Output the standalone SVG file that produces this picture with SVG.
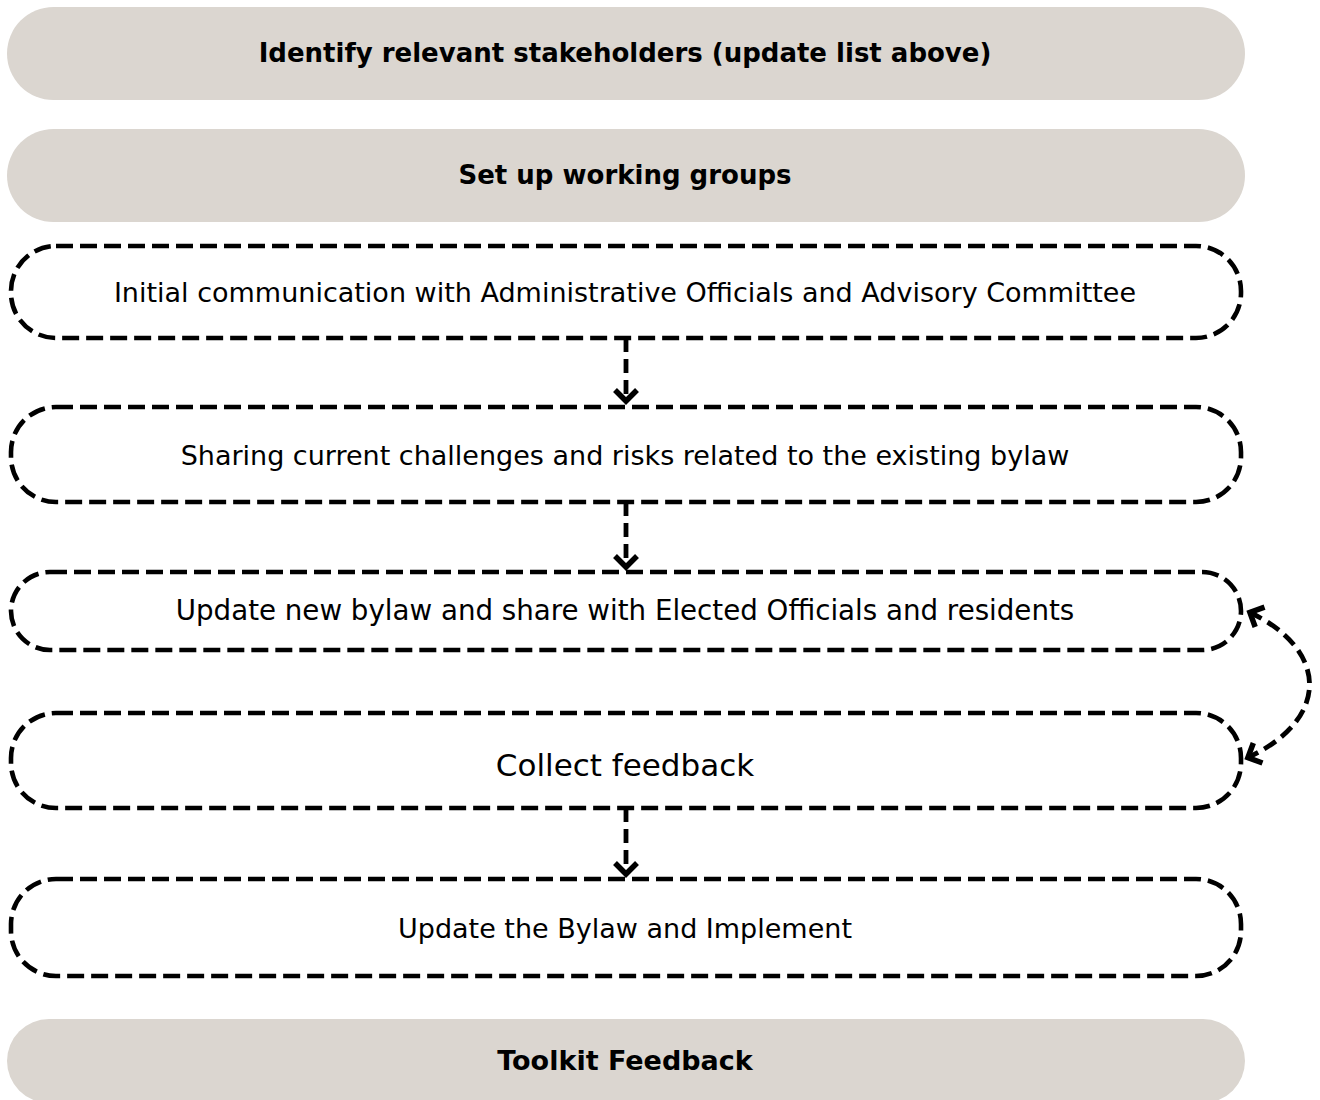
<svg xmlns="http://www.w3.org/2000/svg" width="1320" height="1100" viewBox="0 0 1320 1100">
<style>
.pill{fill:#dbd6d0}
.dash{fill:none;stroke:#000;stroke-width:4.6;stroke-dasharray:17 7}
.b{font-family:"DejaVu Sans",sans-serif;font-weight:700;font-size:26px;fill:#000;text-anchor:middle;dominant-baseline:central}
.r{font-family:"DejaVu Sans",sans-serif;font-weight:400;font-size:27px;fill:#000;text-anchor:middle;dominant-baseline:central}
.c{fill:none;stroke:#000;stroke-width:4.8;stroke-dasharray:14 7}
</style>
<defs>
<marker id="ah" viewBox="0 0 18 28" refX="15" refY="14" markerWidth="18" markerHeight="28" markerUnits="userSpaceOnUse" orient="auto-start-reverse">
<path d="M3,3 L14,14 L3,25" fill="none" stroke="#000" stroke-width="5.5" stroke-linejoin="miter"/>
</marker>
</defs>
<g id="n1"><rect class="pill" x="7" y="7" width="1238" height="93" rx="46.5"/><text class="b" x="625" y="53">Identify relevant stakeholders (update list above)</text></g>
<g id="n2"><rect class="pill" x="7" y="129" width="1238" height="93" rx="46.5"/><text class="b" x="625" y="175">Set up working groups</text></g>
<g id="n3"><rect class="dash" x="11" y="246" width="1230" height="92" rx="45"/><text class="r" x="625" y="292">Initial communication with Administrative Officials and Advisory Committee</text></g>
<g id="n4"><rect class="dash" x="11" y="407" width="1230" height="95" rx="45"/><text class="r" x="625" y="455">Sharing current challenges and risks related to the existing bylaw</text></g>
<g id="n5"><rect class="dash" x="11" y="572" width="1230" height="78" rx="39"/><text class="r" x="625" y="610" style="font-size:27.7px">Update new bylaw and share with Elected Officials and residents</text></g>
<g id="n6"><rect class="dash" x="11" y="713" width="1230" height="95" rx="45"/><text class="r" x="625" y="765" style="font-size:31px">Collect feedback</text></g>
<g id="n7"><rect class="dash" x="11" y="879" width="1230" height="97" rx="45"/><text class="r" x="625" y="928">Update the Bylaw and Implement</text></g>
<g id="n8"><rect class="pill" x="7" y="1019" width="1238" height="84" rx="42"/><text class="b" x="625" y="1060" style="font-size:27px">Toolkit Feedback</text></g>
<g id="connectors">
<path class="c" d="M626,338 V402" marker-end="url(#ah)"/>
<path class="c" d="M626,502 V568" marker-end="url(#ah)"/>
<path class="c" d="M626,808 V875" marker-end="url(#ah)"/>
<path class="c" d="M1249,612 C1330,650 1330,720 1247,758" marker-start="url(#ah)" marker-end="url(#ah)"/>
</g>
</svg>
